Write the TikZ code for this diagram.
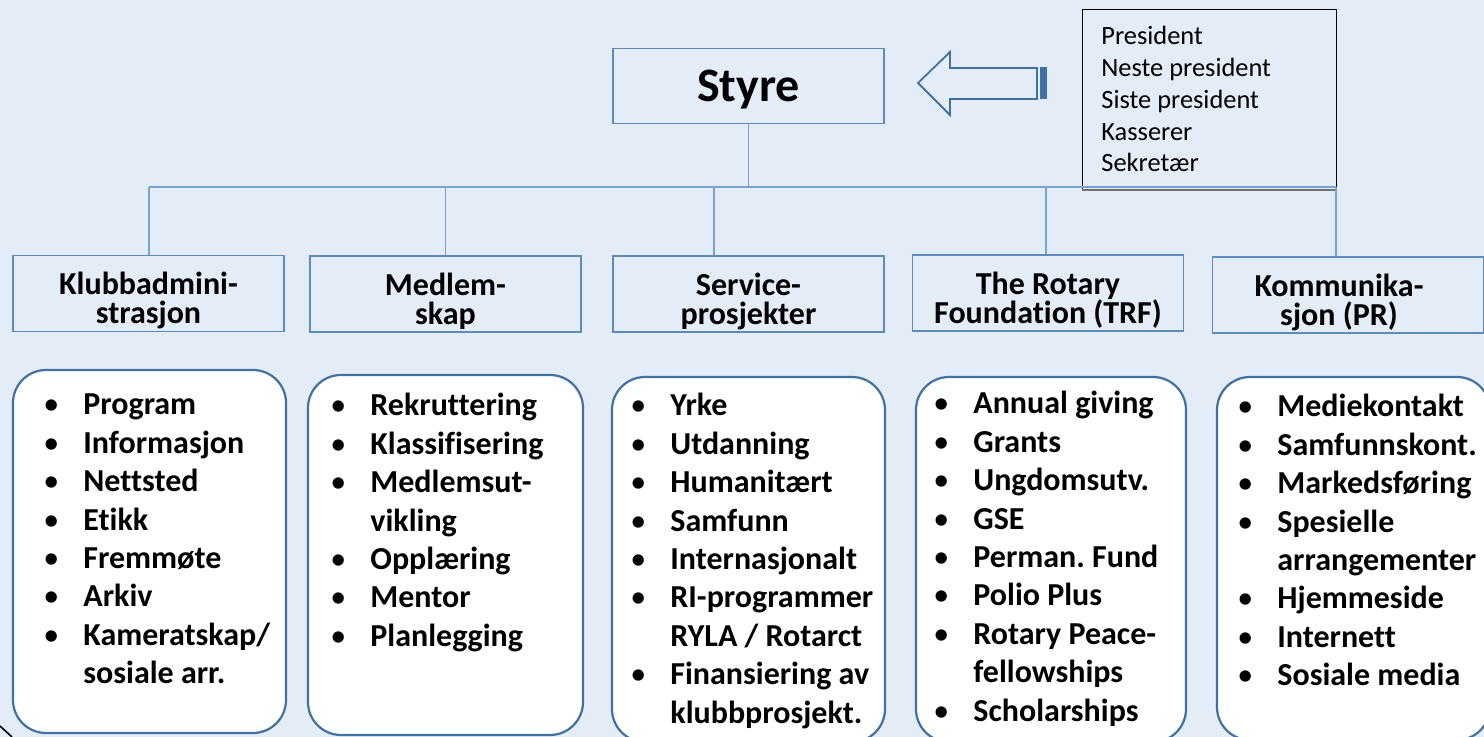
\documentclass[tikz,border=0pt]{standalone}
\usepackage{fontspec}
\setmainfont{Carlito}[Ligatures=NoCommon]
\usetikzlibrary{positioning}
\definecolor{bgblue}{RGB}{227,236,247}
\definecolor{lineblue}{RGB}{120,162,210}
\definecolor{boxblue}{RGB}{95,138,188}
\definecolor{darkblue}{RGB}{65,113,160}
\frenchspacing
\newcommand{\bul}{\makebox[17.5pt][l]{\hspace*{-2.5pt}\mdseries•}}
\newcommand{\blist}[1]{\begin{tabular}[t]{@{}l@{}l@{}}#1\end{tabular}}
\tikzset{
  headbox/.style={draw=boxblue, line width=.7pt, minimum width=135.5pt,
    minimum height=38pt, inner sep=0pt},
  headtext/.style={inner sep=0pt, align=center,
    font=\fontsize{16}{14.5}\selectfont\bfseries},
  listbox/.style={draw=darkblue, line width=1.1pt, fill=white,
    rounded corners=16.5pt, inner sep=0pt},
  listtext/.style={anchor=base west, inner sep=0pt,
    font=\fontsize{16}{19.2}\selectfont\bfseries},
  conn/.style={draw=lineblue, line width=.6pt}
}

\begin{document}
\begin{tikzpicture}[x=.5pt,y=-.5pt]
\clip (0,0) rectangle (1484,737);
\fill[bgblue] (0,0) rectangle (1484,737);
% top
\node[draw=boxblue, line width=.7pt, minimum width=135.5pt, minimum height=37.5pt,
  inner sep=0pt, text depth=0pt, font=\fontsize{24}{28}\selectfont\bfseries] (styre) at (748.5,86) {Styre};
\node[draw=black, line width=.5pt, minimum width=127pt, minimum height=90pt,
  inner sep=0pt] (pres) at (1209,100) {};
\draw[black!55, line width=1pt] (pres.south west) -- (pres.south east);
\node[anchor=base west, inner sep=0pt, font=\fontsize{13.2}{15.85}\selectfont] (preslist) at (1101,45)
  {\begin{tabular}[t]{@{}l@{}}President\\ Neste president\\ Siste president\\ Kasserer\\ Sekretær\end{tabular}};
\draw[darkblue, line width=.9pt] (918,83) -- (950,52) -- (950,68) -- (1037,68)
  -- (1037,99) -- (950,99) -- (950,115) -- cycle;
\fill[darkblue] (1040,67) rectangle (1047,99);
% header boxes
\node[headbox] (klub) at (148.5,293.5) {};
\node[headbox] (medl) at (445.5,294) {};
\node[headbox] (serv) at (748.5,294) {};
\node[headbox] (trf) at (1048,293) {};
\node[headbox] (komm) at (1348,295) {};
\node[headtext] (klubt) at ([yshift=-3.5pt]klub.center) {Klubbadmini-\\strasjon};
\node[headtext] (medlt) at ([yshift=-3.5pt]medl.center) {Medlem-\\skap};
\node[headtext] (servt) at ([yshift=-3.5pt]serv.center) {Service-\\prosjekter};
\node[headtext] (trft) at ([yshift=-3.5pt]trf.center) {The Rotary\\Foundation (TRF)};
\node[headtext] (kommt) at ([yshift=-3.5pt,xshift=-4.5pt]komm.center) {Kommunika-\\sjon (PR)};
% connectors
\coordinate (busL) at (149,187);
\coordinate (busR) at (1336,187);
\coordinate (sv) at (714,187);
\coordinate (tf) at (1046,187);
\draw[conn] (busL) -- (busR);
\draw[conn] (styre.south) -- (styre.south |- busL);
\draw[conn] (busL) -- (klub.north -| busL);
\draw[conn] (medl.north |- busL) -- (medl.north);
\draw[conn] (sv) -- (serv.north -| sv);
\draw[conn] (tf) -- (trf.north -| tf);
\draw[conn] (busR) -- (komm.north -| busR);
% lists
\node[listbox, minimum width=136.5pt, minimum height=181.5pt] (box1) at (149.5,551.5) {};
\node[listbox, minimum width=137.5pt, minimum height=180pt] (box2) at (445.5,555) {};
\node[listbox, minimum width=136.5pt, minimum height=182.5pt] (box3) at (748.5,559.5) {};
\node[listbox, minimum width=135pt, minimum height=182.5pt] (box4) at (1051,559.5) {};
\node[listbox, minimum width=136.5pt, minimum height=181.5pt] (box5) at (1353.5,558.5) {};
\node[listtext] (list1) at (48,415) {\blist{\bul&Program\\ \bul&Informasjon\\ \bul&Nettsted\\
  \bul&Etikk\\ \bul&Fremmøte\\ \bul&Arkiv\\ \bul&Kameratskap/\\ &sosiale arr.}};
\node[listtext] (list2) at (335,416) {\blist{\bul&Rekruttering\\ \bul&Klassifisering\\
  \bul&Medlemsut-\\ &vikling\\ \bul&Opplæring\\ \bul&Mentor\\ \bul&Planlegging}};
\node[listtext] (list3) at (635,416) {\blist{\bul&Yrke\\ \bul&Utdanning\\ \bul&Humanitært\\
  \bul&Samfunn\\ \bul&Internasjonalt\\ \bul&RI-programmer\\ &RYLA / Rotarct\\
  \bul&Finansiering av\\ &klubbprosjekt.}};
\node[listtext] (list4) at (938,414) {\blist{\bul&Annual giving\\ \bul&Grants\\ \bul&Ungdomsutv.\\
  \bul&GSE\\ \bul&Perman. Fund\\ \bul&Polio Plus\\ \bul&Rotary Peace-\\ &fellowships\\
  \bul&Scholarships}};
\node[listtext] (list5) at (1242,417) {\blist{\bul&Mediekontakt\\ \bul&Samfunnskont.\\
  \bul&Markedsføring\\ \bul&Spesielle\\ &arrangementer\\ \bul&Hjemmeside\\ \bul&Internett\\
  \bul&Sosiale media}};
\draw[black, line width=.8pt] (0,726) -- (12,737);
\end{tikzpicture}
\end{document}
